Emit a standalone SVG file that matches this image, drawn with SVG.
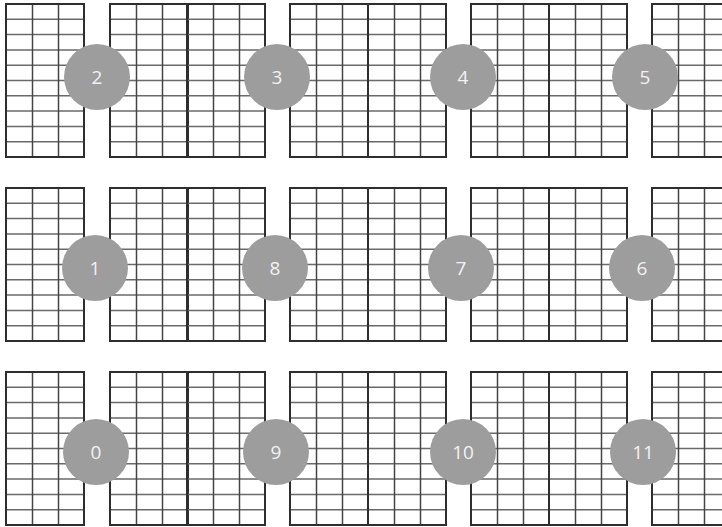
<svg xmlns="http://www.w3.org/2000/svg" xmlns:xlink="http://www.w3.org/1999/xlink" width="722" height="527" viewBox="0 0 722 527">
<style>
.hl{stroke:#6a6a6a;stroke-width:1.5;fill:none}
.vl{stroke:#444;stroke-width:1.5;fill:none}
.ol{stroke:#2e2e2e;stroke-width:2;fill:none}
.nd{fill:#9d9d9d}
.lb{font-family:"Open Sans","Liberation Sans",sans-serif;font-size:19px;fill:#f2f2f2;text-anchor:middle;dominant-baseline:central}
</style>
<defs>
<symbol id="half" viewBox="0 0 78 153" width="78" height="153" overflow="visible">
<path class="hl" d="M0 15.3H78M0 30.6H78M0 45.9H78M0 61.2H78M0 76.5H78M0 91.8H78M0 107.1H78M0 122.4H78M0 137.7H78"/>
<path class="vl" d="M26.5 0V153M52.5 0V153"/>
<rect class="ol" x="0" y="0" width="78" height="153"/>
</symbol>
<g id="bay">
<use xlink:href="#half" x="6" y="0"/>
<use xlink:href="#half" x="110" y="0"/>
<use xlink:href="#half" x="187" y="0"/>
<use xlink:href="#half" x="290" y="0"/>
<use xlink:href="#half" x="368" y="0"/>
<use xlink:href="#half" x="471" y="0"/>
<use xlink:href="#half" x="549" y="0"/>
<use xlink:href="#half" x="652" y="0"/>
</g>
</defs>
<rect width="722" height="527" fill="#fff"/>
<g id="racks">
<use id="row-top" xlink:href="#bay" x="0" y="4"/>
<use id="row-mid" xlink:href="#bay" x="0" y="188"/>
<use id="row-bot" xlink:href="#bay" x="0" y="372"/>
</g>
<g id="connectors"/>
<g id="node-2"><circle class="nd" cx="97" cy="77" r="33"/><text class="lb" x="97" y="77">2</text></g>
<g id="node-3"><circle class="nd" cx="277" cy="77" r="33"/><text class="lb" x="277" y="77">3</text></g>
<g id="node-4"><circle class="nd" cx="463" cy="77" r="33"/><text class="lb" x="463" y="77">4</text></g>
<g id="node-5"><circle class="nd" cx="645" cy="77" r="33"/><text class="lb" x="645" y="77">5</text></g>
<g id="node-1"><circle class="nd" cx="95" cy="268" r="33"/><text class="lb" x="95" y="268">1</text></g>
<g id="node-8"><circle class="nd" cx="275" cy="268" r="33"/><text class="lb" x="275" y="268">8</text></g>
<g id="node-7"><circle class="nd" cx="461" cy="268" r="33"/><text class="lb" x="461" y="268">7</text></g>
<g id="node-6"><circle class="nd" cx="642" cy="268" r="33"/><text class="lb" x="642" y="268">6</text></g>
<g id="node-0"><circle class="nd" cx="96" cy="452" r="33"/><text class="lb" x="96" y="452">0</text></g>
<g id="node-9"><circle class="nd" cx="276" cy="452" r="33"/><text class="lb" x="276" y="452">9</text></g>
<g id="node-10"><circle class="nd" cx="463" cy="452" r="33"/><text class="lb" x="463" y="452">10</text></g>
<g id="node-11"><circle class="nd" cx="643" cy="452" r="33"/><text class="lb" x="643" y="452">11</text></g>
</svg>
